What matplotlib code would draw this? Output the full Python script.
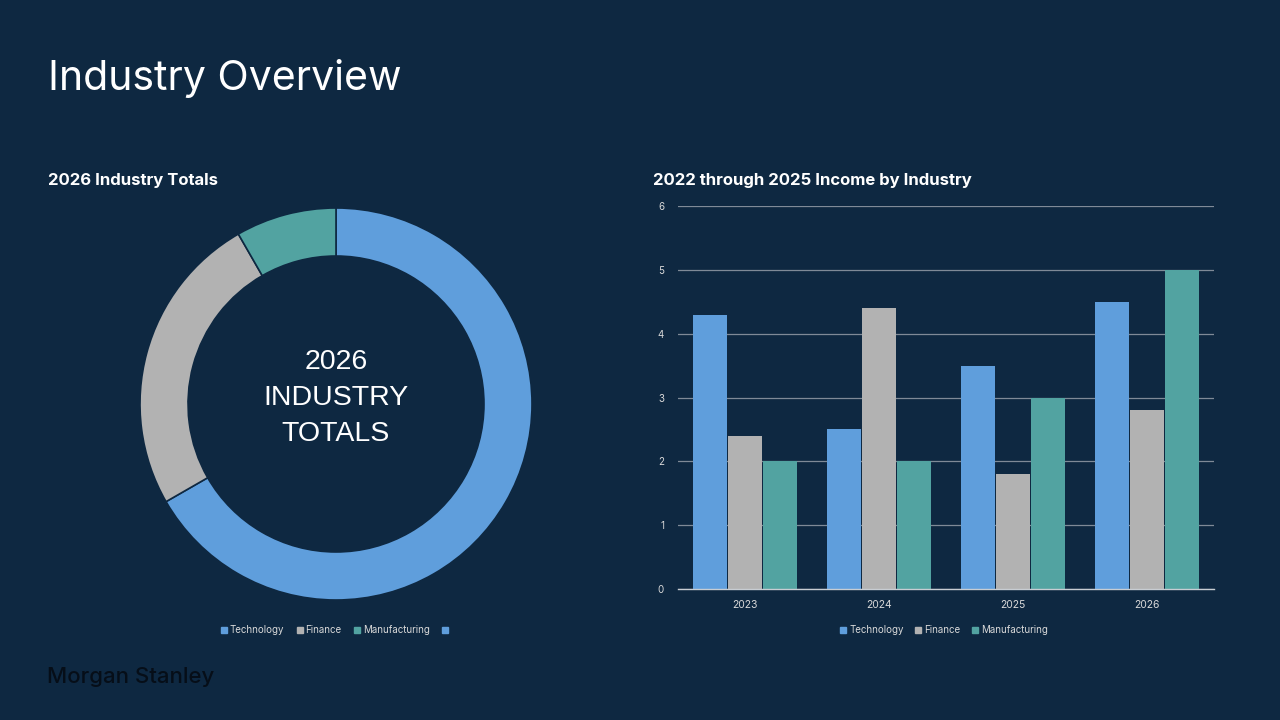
import matplotlib
matplotlib.use("Agg")
import matplotlib.pyplot as plt
from matplotlib.lines import Line2D
import numpy as np

# ---- data ----
industries = ["Technology", "Finance", "Manufacturing"]
donut_shares = [66.7, 25.0, 8.3]
years = ["2023", "2024", "2025", "2026"]
technology = [4.3, 2.5, 3.5, 4.5]
finance = [2.4, 4.4, 1.8, 2.8]
manufacturing = [2.0, 2.0, 3.0, 5.0]
y_ticks = [0, 1, 2, 3, 4, 5, 6]

BG = "#0E2841"
C_TECH = "#5F9EDC"
C_FIN = "#B2B2B2"
C_MAN = "#52A3A1"
colors = [C_TECH, C_FIN, C_MAN]
TXT = "#FFFFFF"
TICK = "#D9D9D9"
GRID = "#7F8A97"
FONT = ["Inter", "DejaVu Sans"]

fig = plt.figure(figsize=(12.8, 7.2), dpi=100, facecolor=BG)

# titles
fig.text(48/1280, 1-78/720, "Industry Overview", fontsize=29.5, color=TXT,
         family=FONT, va="center", ha="left")
fig.text(48/1280, 1-180/720, "2026 Industry Totals", fontsize=12, color=TXT,
         family=FONT, weight="bold", va="center", ha="left")
fig.text(653/1280, 1-180/720, "2022 through 2025 Income by Industry", fontsize=12,
         color=TXT, family=FONT, weight="bold", va="center", ha="left")
fig.text(47/1280, 1-677/720, "Morgan Stanley", fontsize=16, color="#060E18",
         family=FONT, weight="medium", va="center", ha="left")

# ---- donut ----
cx, cy, r = 336, 404, 196
axd = fig.add_axes([(cx-r)/1280, 1-(cy+r)/720, 2*r/1280, 2*r/720])
axd.set_facecolor(BG)
axd.pie(donut_shares, colors=colors, startangle=90, counterclock=False,
        radius=1.0, wedgeprops=dict(width=0.245, edgecolor=BG, linewidth=1.2))
axd.set_xlim(-1, 1)
axd.set_ylim(-1, 1)
axd.set_aspect("equal")
axd.axis("off")
axd.text(0, 0.03, "2026\nINDUSTRY\nTOTALS", ha="center", va="center",
         fontsize=20.5, color=TXT, family=["Liberation Sans", "DejaVu Sans"],
         linespacing=1.5)

def handles(cols, labels):
    return [Line2D([0], [0], marker="s", linestyle="none", markersize=4.0,
                   markerfacecolor=c, markeredgecolor=c, label=l)
            for c, l in zip(cols, labels)]

fig.legend(handles=handles(colors + [C_TECH], industries + [""]),
           loc="center", bbox_to_anchor=(336/1280, 1-630/720),
           ncol=4, frameon=False, labelcolor=TICK,
           handletextpad=0.3, columnspacing=1.3, handlelength=0.6,
           prop={"family": FONT, "size": 7})

# ---- bar chart ----
axb = fig.add_axes([678/1280, 1-589/720, (1214-678)/1280, (589-206)/720])
axb.set_facecolor(BG)
x = np.arange(len(years))
w = 0.25
step = 0.26
for i, (vals, c) in enumerate(zip([technology, finance, manufacturing], colors)):
    axb.bar(x + (i-1)*step, vals, width=w, color=c, zorder=3, label=industries[i])
axb.set_xlim(-0.5, len(years)-0.5)
axb.set_ylim(0, 6)
axb.set_yticks(y_ticks)
axb.set_xticks(x)
axb.set_xticklabels(years)
axb.yaxis.grid(True, color=GRID, linewidth=0.9, zorder=0)
axb.set_axisbelow(True)
for s in ["top", "right", "left"]:
    axb.spines[s].set_visible(False)
axb.spines["bottom"].set_color("#C8CDD3")
axb.spines["bottom"].set_linewidth(1.0)
axb.spines["bottom"].set_zorder(4)
axb.tick_params(axis="both", length=0, colors=TICK)
axb.tick_params(axis="y", pad=10, labelsize=7)
axb.tick_params(axis="x", pad=8, labelsize=7.5)
for lab in axb.get_xticklabels() + axb.get_yticklabels():
    lab.set_family(FONT)

fig.legend(handles=handles(colors, industries), loc="center",
           bbox_to_anchor=(944/1280, 1-630/720), ncol=3, frameon=False,
           labelcolor=TICK, handletextpad=0.3, columnspacing=1.2,
           handlelength=0.6, prop={"family": FONT, "size": 7})

fig.savefig("out.png", dpi=100, facecolor=BG)
